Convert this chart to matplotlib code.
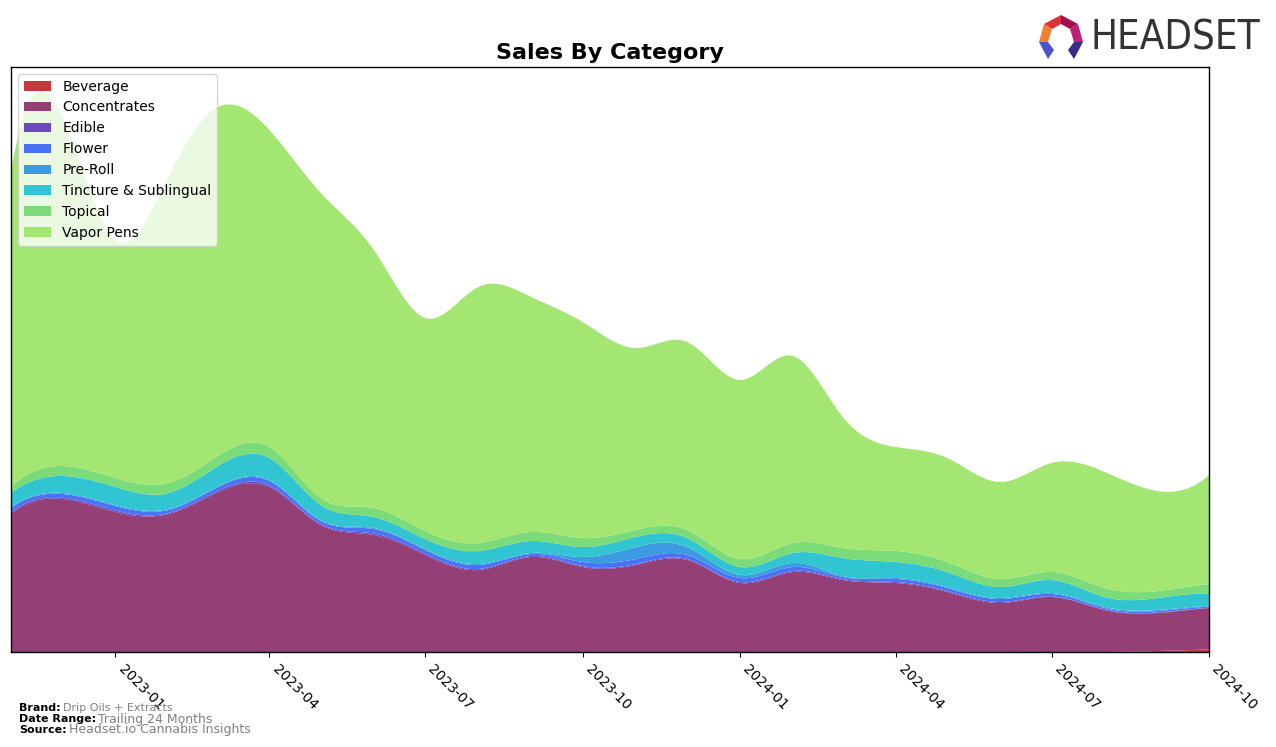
import numpy as np
import matplotlib
matplotlib.use("Agg")
import matplotlib.pyplot as plt
import matplotlib.dates as mdates
from matplotlib.patches import Polygon, Patch
import datetime as dt

# ---------------- data (monthly values, arbitrary sales units) ----------------
months = ["2022-11", "2022-12", "2023-01", "2023-02", "2023-03", "2023-04",
          "2023-05", "2023-06", "2023-07", "2023-08", "2023-09", "2023-10",
          "2023-11", "2023-12", "2024-01", "2024-02", "2024-03", "2024-04",
          "2024-05", "2024-06", "2024-07", "2024-08", "2024-09", "2024-10"]

categories = ["Beverage", "Concentrates", "Edible", "Flower", "Pre-Roll",
              "Tincture & Sublingual", "Topical", "Vapor Pens"]

beverage = [0, 0, 0, 0, 0, 0, 0, 0, 0, 0, 0, 0,
            0, 0, 0, 0, 0, 0, 0, 0, 0, 0, 1.0, 2.5]
concentrates = [138, 153, 140, 138, 159, 165, 127, 117, 97, 82, 95, 85,
                87, 92, 69, 80, 72, 69, 60, 49, 55, 42, 38, 41.5]
edible = [1.5, 1.5, 1.5, 1, 1.5, 1.5, 1, 1.5, 1.5, 1, 1, 1,
          1, 1, 1, 1, 1, 1, 1, 1, 0.5, 0.5, 0.5, 0.3]
flower = [4.5, 3.5, 4.5, 3, 3.5, 4.5, 3, 4.5, 3.5, 4, 2, 4,
          5, 4, 4, 4, 2, 3, 3, 3, 2.5, 1.5, 1.5, 1]
pre_roll = [1, 1, 1, 1, 1, 1, 1, 1, 1, 1, 1, 5,
            12, 8, 3, 4, 1, 1, 1, 1, 1, 1, 1, 0.7]
tincture = [14, 17, 18, 16, 20, 22, 15, 11, 10, 13, 12, 10,
            10, 9, 8, 10, 18, 16, 15, 11, 13, 10, 12, 12]
topical = [6, 10, 9, 10, 10, 11, 7, 9, 8, 8, 9, 9,
           7, 8, 8, 10, 10, 11, 10, 8, 8, 9, 7, 10]
vapor_pens = [315, 349, 238, 306, 349, 317, 305, 258, 213, 256, 235, 216,
              182, 188, 179, 187, 131, 104, 104, 97, 109, 116, 100, 109]

colors = ["#c4373a", "#943f75", "#6a4bbf", "#4a72f5", "#3c9ae0",
          "#30c5d0", "#7adb78", "#a4e672"]

series = [beverage, concentrates, edible, flower, pre_roll,
          tincture, topical, vapor_pens]


# ---------------- smoothing (cubic spline, not-a-knot) ----------------
def cubic_spline(x, y, xs):
    x = np.asarray(x, float)
    y = np.asarray(y, float)
    n = len(x)
    h = np.diff(x)
    A = np.zeros((n, n))
    b = np.zeros(n)
    A[0, 0], A[0, 1], A[0, 2] = h[1], -(h[0] + h[1]), h[0]
    A[-1, -3], A[-1, -2], A[-1, -1] = h[-1], -(h[-2] + h[-1]), h[-2]
    for i in range(1, n - 1):
        A[i, i - 1] = h[i - 1]
        A[i, i] = 2 * (h[i - 1] + h[i])
        A[i, i + 1] = h[i]
        b[i] = 6 * ((y[i + 1] - y[i]) / h[i] - (y[i] - y[i - 1]) / h[i - 1])
    M = np.linalg.solve(A, b)
    idx = np.clip(np.searchsorted(x, xs) - 1, 0, n - 2)
    x0, x1 = x[idx], x[idx + 1]
    hh = x1 - x0
    return (M[idx] * (x1 - xs) ** 3 / (6 * hh) + M[idx + 1] * (xs - x0) ** 3 / (6 * hh)
            + (y[idx] / hh - M[idx] * hh / 6) * (x1 - xs)
            + (y[idx + 1] / hh - M[idx + 1] * hh / 6) * (xs - x0))


dates = [dt.datetime.strptime(m, "%Y-%m") for m in months]
xnum = mdates.date2num(dates)
xs = np.linspace(xnum[0], xnum[-1], 600)
smooth = [np.clip(cubic_spline(xnum, s, xs), 0, None) for s in series]

# ---------------- figure ----------------
W, H = 1276, 747
fig = plt.figure(figsize=(W / 100, H / 100), dpi=100)
ax = fig.add_axes([11 / W, (H - 652) / H, (1209 - 11) / W, (652 - 67) / H])

ax.stackplot(xs, *smooth, colors=colors, labels=categories, linewidth=0)
ax.set_xlim(xnum[0], xnum[-1])
ax.set_ylim(0, 585)
ax.set_yticks([])

tick_dates = [dt.datetime(2023, 1, 1), dt.datetime(2023, 4, 1), dt.datetime(2023, 7, 1),
              dt.datetime(2023, 10, 1), dt.datetime(2024, 1, 1), dt.datetime(2024, 4, 1),
              dt.datetime(2024, 7, 1), dt.datetime(2024, 10, 1)]
ax.set_xticks(mdates.date2num(tick_dates))
ax.set_xticklabels([d.strftime("%Y-%m") for d in tick_dates], rotation=-45,
                   ha="left", fontsize=10)
for sp in ax.spines.values():
    sp.set_linewidth(1.0)

handles = [Patch(facecolor=c, label=l) for c, l in zip(colors, categories)]
leg = ax.legend(handles=handles, loc="upper left", fontsize=10, framealpha=0.8,
                borderaxespad=0.5, handlelength=2.0)

ax.set_title("Sales By Category", fontsize=16, fontweight="bold", pad=6)

# ---------------- footer ----------------
fig.canvas.draw()
renderer = fig.canvas.get_renderer()
footer = [("Brand:", "Drip Oils + Extracts", 708, 8),
          ("Date Range:", "Trailing 24 Months", 719, 9),
          ("Source:", "Headset.io Cannabis Insights", 730, 9)]
for lab, val, ypx, vs in footer:
    t = fig.text(19 / W, 1 - ypx / H, lab, fontsize=8, fontweight="bold",
                 va="center", ha="left", color="black")
    bb = t.get_window_extent(renderer)
    fig.text((bb.x1 + 2) / W, 1 - ypx / H, val, fontsize=vs, va="center",
             ha="left", color="#808080")

# ---------------- logo ----------------
fig.text(1091 / W, 1 - 39 / H, "HEADSET", fontsize=28.8, color="#333333",
         va="center", ha="left", family=["Liberation Sans Narrow", "DejaVu Sans"],
         stretch="condensed", fontweight="medium")


def P(pts):
    return [(px / W, 1 - py / H) for px, py in pts]


logo_polys = [
    ([(1044, 24), (1061, 15), (1061, 24), (1052, 29)], "#e0303a"),
    ([(1061, 15), (1078, 24), (1070, 29), (1061, 24)], "#a0104a"),
    ([(1078, 24), (1083, 42), (1074, 42), (1070, 29)], "#c0207a"),
    ([(1044, 24), (1052, 29), (1048, 42), (1039, 42)], "#f08030"),
    ([(1039, 42), (1048, 42), (1054, 50), (1048, 59)], "#5050c8"),
    ([(1083, 42), (1074, 42), (1068, 50), (1074, 59)], "#3a2a8a"),
]
for pts, c in logo_polys:
    fig.patches.append(Polygon(P(pts), closed=True, facecolor=c, edgecolor="none",
                               transform=fig.transFigure, figure=fig))

fig.savefig("out.png", dpi=100)
